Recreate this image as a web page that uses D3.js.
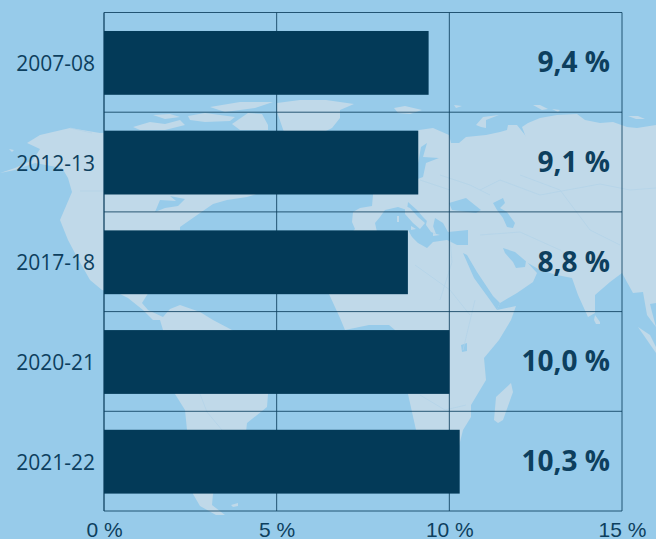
<!DOCTYPE html>
<html lang="fr">
<head>
    <meta charset="UTF-8">
    <title>Part en pourcentage, 2007-08 à 2021-22</title>
    <script src="https://cdnjs.cloudflare.com/ajax/libs/d3/7.8.5/d3.min.js"></script>
    <style>
        body {
            margin: 0;
            padding: 0;
            background-color: #97cbea;
            overflow: hidden;
        }
        svg {
            display: block;
            font-family: "Open Sans", sans-serif;
        }
        .label {
            font-size: 21px;
            fill: #0d3f5e;
        }
        .value {
            font-size: 28px;
            font-weight: 700;
            fill: #0d3f5e;
        }
        .grid line {
            stroke: #0d3f5e;
            stroke-opacity: 0.85;
            fill: none;
        }
    </style>
</head>
<body>
  <div id="chart"></div>

  <script>
    // Donnees
    const years = ["2007-08", "2012-13", "2017-18", "2020-21", "2021-22"];
    const shares = [9.4, 9.1, 8.8, 10.0, 10.3];
    const xTicks = [0, 5, 10, 15];

    // Fond de carte, trace a la main (pixels de la page)
    const americas = [[0,173],[15,168],[33,160],[40,149],[27,143],[40,135],[70,128],[100,133],[130,131],[250,131],[270,190],[247,197],[227,200],[213,204],[200,213],[190,220],[180,227],[180,232],[165,270],[147,295],[142,303],[148,310],[163,317],[170,309],[180,305],[200,312],[213,320],[232,330],[268,365],[268,394],[267,407],[247,423],[246,432],[235,460],[213,494],[212,505],[225,515],[216,515],[200,506],[193,494],[187,430],[185,410],[175,394],[163,360],[163,330],[160,320],[153,320],[143,310],[128,298],[120,294],[102,290],[90,280],[77,257],[68,240],[60,220],[72,192],[68,178],[62,168],[35,163],[15,170]];
    const eurasiaAfrica = [[373,195],[373,150],[419,130],[433,128],[449,135],[451,143],[459,143],[466,137],[486,135],[500,132],[507,130],[508,125],[517,125],[525,135],[527,140],[522,127],[528,123],[540,118],[557,115],[577,114],[585,120],[600,123],[613,122],[627,127],[637,128],[656,125],[656,303],[650,304],[652,312],[656,327],[647,315],[643,292],[633,293],[622,273],[610,282],[595,295],[595,313],[588,317],[578,295],[572,278],[557,275],[540,270],[528,263],[515,252],[503,248],[505,253],[513,262],[516,268],[525,267],[526,261],[537,273],[533,282],[517,293],[500,303],[497,310],[516,306],[511,320],[499,340],[484,358],[486,380],[471,405],[471,417],[463,430],[458,450],[445,490],[425,490],[416,430],[408,394],[395,330],[389,325],[369,325],[345,330],[340,318],[329,294],[345,240],[355,229],[352,222],[353,212],[360,208],[372,206]];
    const islands = [
        [[133,127],[150,122],[165,124],[180,120],[185,125],[165,130],[140,130]],
        [[153,115],[170,114],[180,117],[165,119]],
        [[188,116],[205,113],[235,117],[230,121],[205,122],[190,120]],
        [[210,107],[240,102],[273,102],[255,108],[225,112]],
        [[248,113],[262,114],[268,125],[268,130],[240,130],[232,124]],
        [[277,103],[300,100],[326,100],[354,104],[340,110],[340,118],[332,128],[326,131],[300,150],[285,135],[277,112]],
        [[394,108],[405,106],[422,110],[410,114],[398,113]],
        [[454,105],[462,106],[456,108]],
        [[533,105],[540,105],[548,109],[542,110]],
        [[552,109],[560,110],[558,112]],
        [[628,116],[638,116],[645,119],[636,119]],
        [[476,125],[483,117],[499,115],[486,120],[486,128],[481,127]],
        [[595,315],[600,322],[600,324],[596,324],[594,320]],
        [[638,327],[650,335],[656,347],[656,353],[647,340]],
        [[494,420],[496,397],[511,383],[513,392],[503,420],[498,423]],
        [[9,149],[14,150],[12,152]],
        [[231,505],[238,503],[238,506],[233,507]]
    ];
    const seas = [
        [[375,223],[380,217],[385,210],[398,207],[407,210],[408,202],[417,210],[423,217],[433,227],[435,218],[443,223],[448,232],[468,230],[468,245],[457,245],[447,240],[433,242],[427,248],[418,243],[412,237],[408,230],[377,232]],
        [[449,203],[466,198],[481,210],[476,213],[452,210]],
        [[493,203],[503,198],[505,203],[500,208],[507,212],[515,223],[513,228],[507,227],[503,218],[497,210]],
        [[463,253],[467,255],[477,272],[493,296],[500,303],[497,310],[490,300],[474,278]],
        [[421,147],[427,143],[423,157],[439,158],[426,163],[423,177],[415,180]],
        [[461,345],[467,343],[467,351],[462,352]],
        [[155,212],[160,200],[176,201],[170,196],[185,199],[178,206],[165,208]]
    ];
    const medIslands = [
        [[397,216],[399,216],[399,222],[397,222]],
        [[405,206],[410,208],[418,217],[425,223],[420,229],[413,223],[405,214]],
        [[411,226],[416,229],[411,230]],
        [[427,220],[433,226],[436,234],[431,232],[426,225]],
        [[433,233],[440,235],[433,236]]
    ];
    const borders = [
        [[70,128],[92,133]], [[80,191],[103,191]], [[176,330],[190,352],[205,394]], [[200,394],[207,412],[222,430]],
        [[415,265],[450,290],[470,315]], [[450,240],[452,262],[440,300]], [[463,350],[475,300]], [[420,395],[445,410],[466,405]],
        [[480,190],[500,180],[540,195],[600,184],[630,190],[656,188]], [[520,175],[560,190],[590,230],[620,245]],
        [[440,175],[470,185],[490,195]], [[480,235],[520,232],[560,250],[575,262]], [[420,180],[450,190]]
    ];

    // Configuration
    const width = 656;
    const height = 539;
    const margin = { top: 12.5, right: 34, bottom: 28, left: 104 };

    const svg = d3.select("#chart")
        .append("svg")
        .attr("width", width)
        .attr("height", height)
        .attr("viewBox", [0, 0, width, height]);

    const x = d3.scaleLinear()
        .domain([0, 15])
        .range([margin.left, width - margin.right]);

    const y = d3.scaleBand()
        .domain(years)
        .range([margin.top, height - margin.bottom])
        .paddingInner(0.36)
        .paddingOuter(0.18)
        .align(0.515);

    // Carte en fond
    const outline = d3.line().curve(d3.curveLinearClosed);
    const stroke = d3.line();
    const map = svg.append("g");

    map.selectAll("path.land")
        .data([americas, eurasiaAfrica, ...islands])
        .enter()
        .append("path")
        .attr("class", "land")
        .attr("d", outline)
        .attr("fill", "#c0d9e9");

    map.selectAll("path.sea")
        .data(seas)
        .enter()
        .append("path")
        .attr("class", "sea")
        .attr("d", outline)
        .attr("fill", "#97cbea");

    map.selectAll("path.med")
        .data(medIslands)
        .enter()
        .append("path")
        .attr("class", "med")
        .attr("d", outline)
        .attr("fill", "#c0d9e9");

    map.selectAll("path.border")
        .data(borders)
        .enter()
        .append("path")
        .attr("class", "border")
        .attr("d", stroke)
        .attr("fill", "none")
        .attr("stroke", "#b2d3e8")
        .attr("stroke-width", 0.7);

    // Grille : une ligne par graduation et par limite de bande
    const grid = svg.append("g").attr("class", "grid");

    grid.selectAll("line.v")
        .data(xTicks)
        .enter()
        .append("line")
        .attr("class", "v")
        .attr("x1", d => x(d))
        .attr("x2", d => x(d))
        .attr("y1", margin.top)
        .attr("y2", height - margin.bottom)
        .attr("stroke-width", d => d === 0 ? 1.5 : 1);

    grid.selectAll("line.h")
        .data(d3.range(years.length + 1))
        .enter()
        .append("line")
        .attr("class", "h")
        .attr("x1", x(0))
        .attr("x2", x(15))
        .attr("y1", d => margin.top + d * y.step())
        .attr("y2", d => margin.top + d * y.step());

    // Barres
    svg.selectAll("rect.bar")
        .data(years)
        .enter()
        .append("rect")
        .attr("class", "bar")
        .attr("x", x(0))
        .attr("y", d => y(d))
        .attr("width", (d, i) => x(shares[i]) - x(0))
        .attr("height", y.bandwidth())
        .attr("fill", "#033a58");

    // Annees a gauche
    svg.selectAll("text.year")
        .data(years)
        .enter()
        .append("text")
        .attr("class", "label year")
        .attr("x", x(0) - 9)
        .attr("y", d => y(d) + y.bandwidth() / 2 + 8)
        .attr("text-anchor", "end")
        .text(d => d);

    // Valeurs a droite
    svg.selectAll("text.value")
        .data(shares)
        .enter()
        .append("text")
        .attr("class", "value")
        .attr("x", x(15) - 12)
        .attr("y", (d, i) => y(years[i]) + y.bandwidth() / 2 + 9.5)
        .attr("text-anchor", "end")
        .text(d => d.toFixed(1).replace(".", ",") + " %");

    // Axe du bas
    const xAxis = d3.axisBottom(x)
        .tickValues(xTicks)
        .tickSize(0)
        .tickPadding(8)
        .tickFormat(d => d + " %");

    const axisG = svg.append("g")
        .attr("transform", `translate(0,${height - margin.bottom})`)
        .call(xAxis);
    axisG.select(".domain").remove();
    axisG.selectAll("text")
        .attr("class", "label")
        .attr("dy", null)
        .attr("y", 25.5)
        .style("font-family", null)
        .style("font-size", null);
  </script>
</body>
</html>
